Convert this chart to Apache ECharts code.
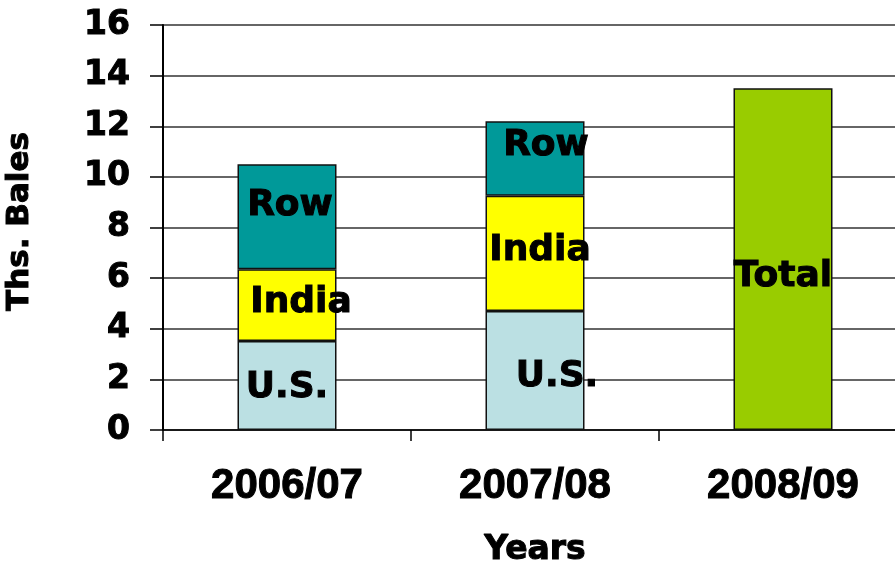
<!DOCTYPE html>
<html>
<head>
<meta charset="utf-8">
<script src="https://cdn.jsdelivr.net/npm/echarts@6/dist/echarts.min.js"></script>
<style>html,body{margin:0;padding:0;background:#fff;}#c{width:895px;height:565px;}</style>
</head>
<body>
<div id="c"></div>
<script>
var categories = ['2006/07', '2007/08', '2008/09'];
var usValues = [3.52, 4.70, '-'];
var indiaValues = [2.83, 4.55, '-'];
var rowValues = [4.15, 2.95, '-'];
var totalValues = ['-', '-', 13.5];
var yTicks = [0, 2, 4, 6, 8, 10, 12, 14, 16];

// label offsets (style only)
var usOff = [[0, 2], [22, 6], [0, 0]];
var indiaOff = [[14, -2], [5, -3], [0, 0]];
var rowOff = [[3, -11], [11, -13], [0, 0]];
var totalOff = [[0, 0], [0, 0], [0, 17]];

var heavy = {textBorderColor: '#000', textBorderWidth: 1};

var chart = echarts.init(document.getElementById('c'), null, {renderer: 'canvas'});
var labelFont = Object.assign({show: true, position: 'inside', color: '#000', fontFamily: 'DejaVu Sans', fontWeight: 'bold', fontSize: 36, formatter: function (p) { return p.seriesName; }}, heavy);

function mk(name, vals, offs, color) {
  return {
    name: name, type: 'bar', stack: 'a', barWidth: 99,
    itemStyle: {color: color, borderColor: '#111', borderWidth: 1.5},
    label: labelFont,
    data: vals.map(function (v, i) { return {value: v, label: {offset: offs[i]}}; })
  };
}

chart.setOption({
  animation: false,
  backgroundColor: '#fff',
  grid: {left: 163, top: 25, width: 744, height: 405, containLabel: false, outerBoundsMode: 'none'},
  xAxis: {
    type: 'category', data: categories,
    name: 'Years', nameLocation: 'middle', nameGap: 104,
    nameTextStyle: Object.assign({fontFamily: 'DejaVu Sans', fontWeight: 'bold', fontSize: 33, color: '#000'}, heavy),
    axisLine: {lineStyle: {color: '#000', width: 1.5}},
    axisTick: {show: true, length: 11, lineStyle: {color: '#000', width: 1.5}},
    axisLabel: Object.assign({margin: 35, fontFamily: 'Liberation Sans', fontWeight: 'bold', fontSize: 42, color: '#000'}, heavy)
  },
  yAxis: {
    type: 'value', min: yTicks[0], max: yTicks[yTicks.length - 1], interval: 2,
    name: 'Ths. Bales', nameLocation: 'middle', nameGap: 128, nameRotate: 90,
    nameTextStyle: Object.assign({fontFamily: 'DejaVu Sans', fontWeight: 'bold', fontSize: 31, color: '#000', padding: [0, 0, 0, 12]}, heavy),
    axisLine: {show: true, lineStyle: {color: '#000', width: 2}},
    axisTick: {show: true, length: 13, lineStyle: {color: '#000', width: 1.5}},
    axisLabel: Object.assign({margin: 33, fontFamily: 'DejaVu Sans', fontWeight: 'bold', fontSize: 33, color: '#000'}, heavy),
    splitLine: {show: true, lineStyle: {color: '#333', width: 1.5}}
  },
  series: [
    mk('U.S.', usValues, usOff, '#BBE0E3'),
    mk('India', indiaValues, indiaOff, '#FFFF00'),
    mk('Row', rowValues, rowOff, '#009999'),
    mk('Total', totalValues, totalOff, '#99CC00')
  ]
});
</script>
</body>
</html>
